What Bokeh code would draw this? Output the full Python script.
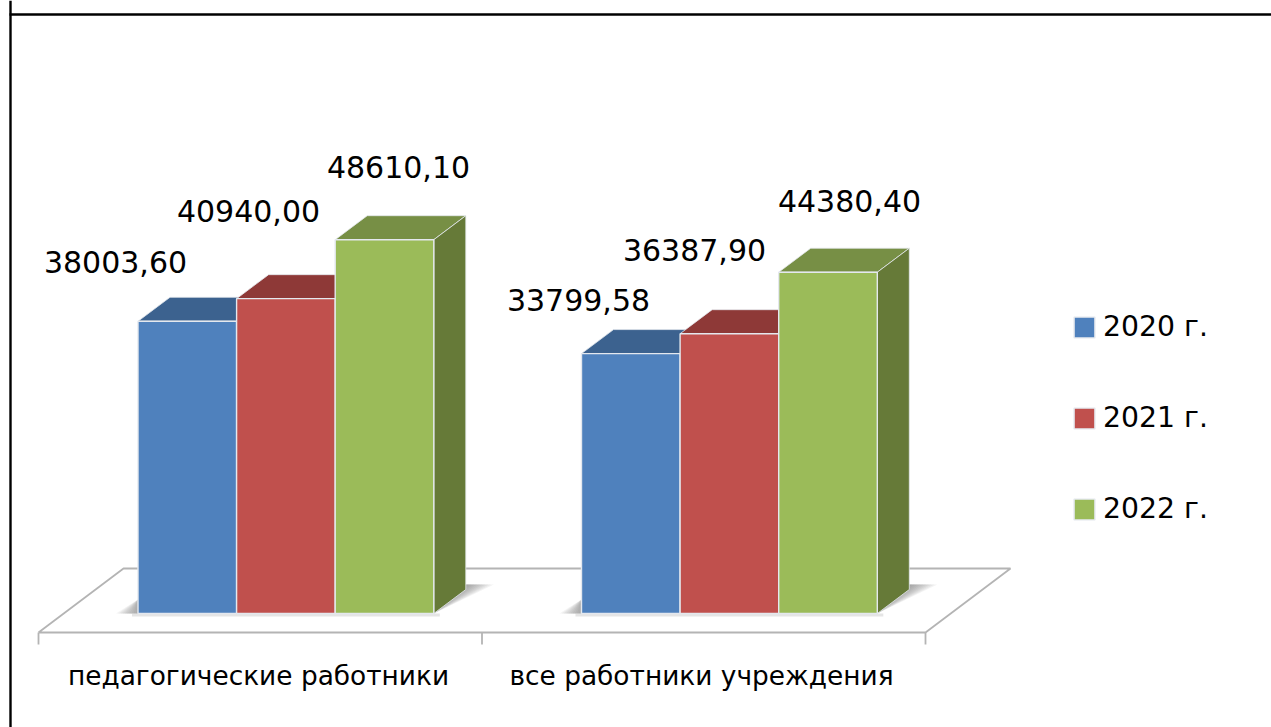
from bokeh.plotting import figure
from bokeh.models import Range1d, Legend, LegendItem
from bokeh.core.properties import value
from bokeh.embed import file_html
from bokeh.resources import INLINE

categories = ["педагогические работники", "все работники учреждения"]
series_names = ["2020 г.", "2021 г.", "2022 г."]
values_2020 = [38003.60, 33799.58]
values_2021 = [40940.00, 36387.90]
values_2022 = [48610.10, 44380.40]
series_values = [values_2020, values_2021, values_2022]

front = ["#4F81BD", "#C0504D", "#9BBB59"]
top = ["#3C628F", "#8E3937", "#778F45"]
side = ["#36557C", "#7C322F", "#667A38"]
FONT = "DejaVu Sans"

W, H = 1271, 727
OX, OY = 0, 0
UNIT = 443.5
SCALE = 0.00769
BASE_X, BASE_Y = 38, 613


def X(px):
    return (px - BASE_X) / UNIT


def Y(py):
    return (BASE_Y - py) / SCALE


p = figure(width=W, height=H, output_backend="svg", toolbar_location=None,
           x_range=Range1d(X(OX), X(OX + W)), y_range=Range1d(Y(OY + H), Y(OY)),
           min_border=0, outline_line_color=None)
p.axis.visible = False
p.grid.visible = False

# page frame
p.line([X(10), X(10)], [Y(OY), Y(OY + H)], line_color="black", line_width=2.4)
p.line([X(9), X(OX + W)], [Y(14), Y(14)], line_color="black", line_width=2.4)

# floor
FLOOR = "#B4B4B4"
p.line([X(38), X(123), X(1010), X(925), X(38)],
       [Y(632), Y(568), Y(568), Y(632), Y(632)], line_color=FLOOR, line_width=1.8)
for tick in [0, 1, 2]:
    p.line([tick, tick], [Y(632), Y(644)], line_color=FLOOR, line_width=1.8)

BAR_W = 98.6 / UNIT
OFFSET = 99.5 / UNIT
DX = 32 / UNIT
DY = 24 / SCALE
SHADOW_H = 29 / SCALE

# shadows
for i in range(len(categories)):
    g_left = i + OFFSET
    g_right = g_left + 3 * BAR_W
    for k in range(10):
        reach = (28 - k * 2.8) / UNIT
        p.patch([g_right, g_right + DX, g_right + DX + reach],
                [0, SHADOW_H, SHADOW_H], fill_color="#666666", fill_alpha=0.08, line_color=None)
        reach_l = (22 - k * 2.2) / UNIT
        p.patch([g_left, g_left, g_left - reach_l], [0, 14 / SCALE, 0],
                fill_color="#666666", fill_alpha=0.07, line_color=None)
    p.quad(left=[g_left - 6 / UNIT], right=[g_right + 6 / UNIT], bottom=[-3 / SCALE], top=[0],
           fill_color="#CCCCCC", fill_alpha=0.5, line_color=None)

# bars
EDGE = "#E4E8EE"
legend_items = []
for j, vals in enumerate(series_values):
    for i, v in enumerate(vals):
        left = i + OFFSET + j * BAR_W
        right = left + BAR_W
        p.patch([left, left + DX, right + DX, right], [v, v + DY, v + DY, v],
                fill_color=top[j], line_color=EDGE, line_width=0.8)
        p.patch([right, right + DX, right + DX, right], [0, DY, v + DY, v],
                fill_color=side[j], line_color=EDGE, line_width=0.8)
    fr = p.quad(left=[i + OFFSET + j * BAR_W for i in range(len(vals))],
                right=[i + OFFSET + (j + 1) * BAR_W for i in range(len(vals))],
                bottom=[0] * len(vals), top=vals,
                fill_color=front[j], line_color=EDGE, line_width=1.4)
    legend_items.append(LegendItem(label=series_names[j], renderers=[fr]))

# value labels: hand placement as in the reference
label_px = [[(115, 261), (578, 299)], [(248, 210), (694, 249)], [(398, 166), (849, 200)]]
for j, vals in enumerate(series_values):
    for i, v in enumerate(vals):
        lx, ly = label_px[j][i]
        p.text([X(lx)], [Y(ly)], text=[f"{v:.2f}".replace(".", ",")], text_align="center",
               text_baseline="alphabetic", text_font=value(FONT), text_font_size="30px", text_color="black")

# category labels
p.text([X(258), X(701)], [Y(674.5)] * 2, text=categories, text_align="center", text_baseline="alphabetic",
       text_font=value(FONT), text_font_size="26.4px", text_color="black")

legend = Legend(items=legend_items, location=(1071, H - 519 - 6), orientation="vertical",
                border_line_color=None, background_fill_alpha=0, padding=0, margin=0,
                spacing=58, glyph_width=26, glyph_height=26, label_height=20,
                label_standoff=6, label_text_font=FONT, label_text_font_size="28.3px",
                label_text_color="black", label_text_baseline="middle")
p.add_layout(legend, "center")

open("out.html", "w").write(file_html(p, INLINE))
